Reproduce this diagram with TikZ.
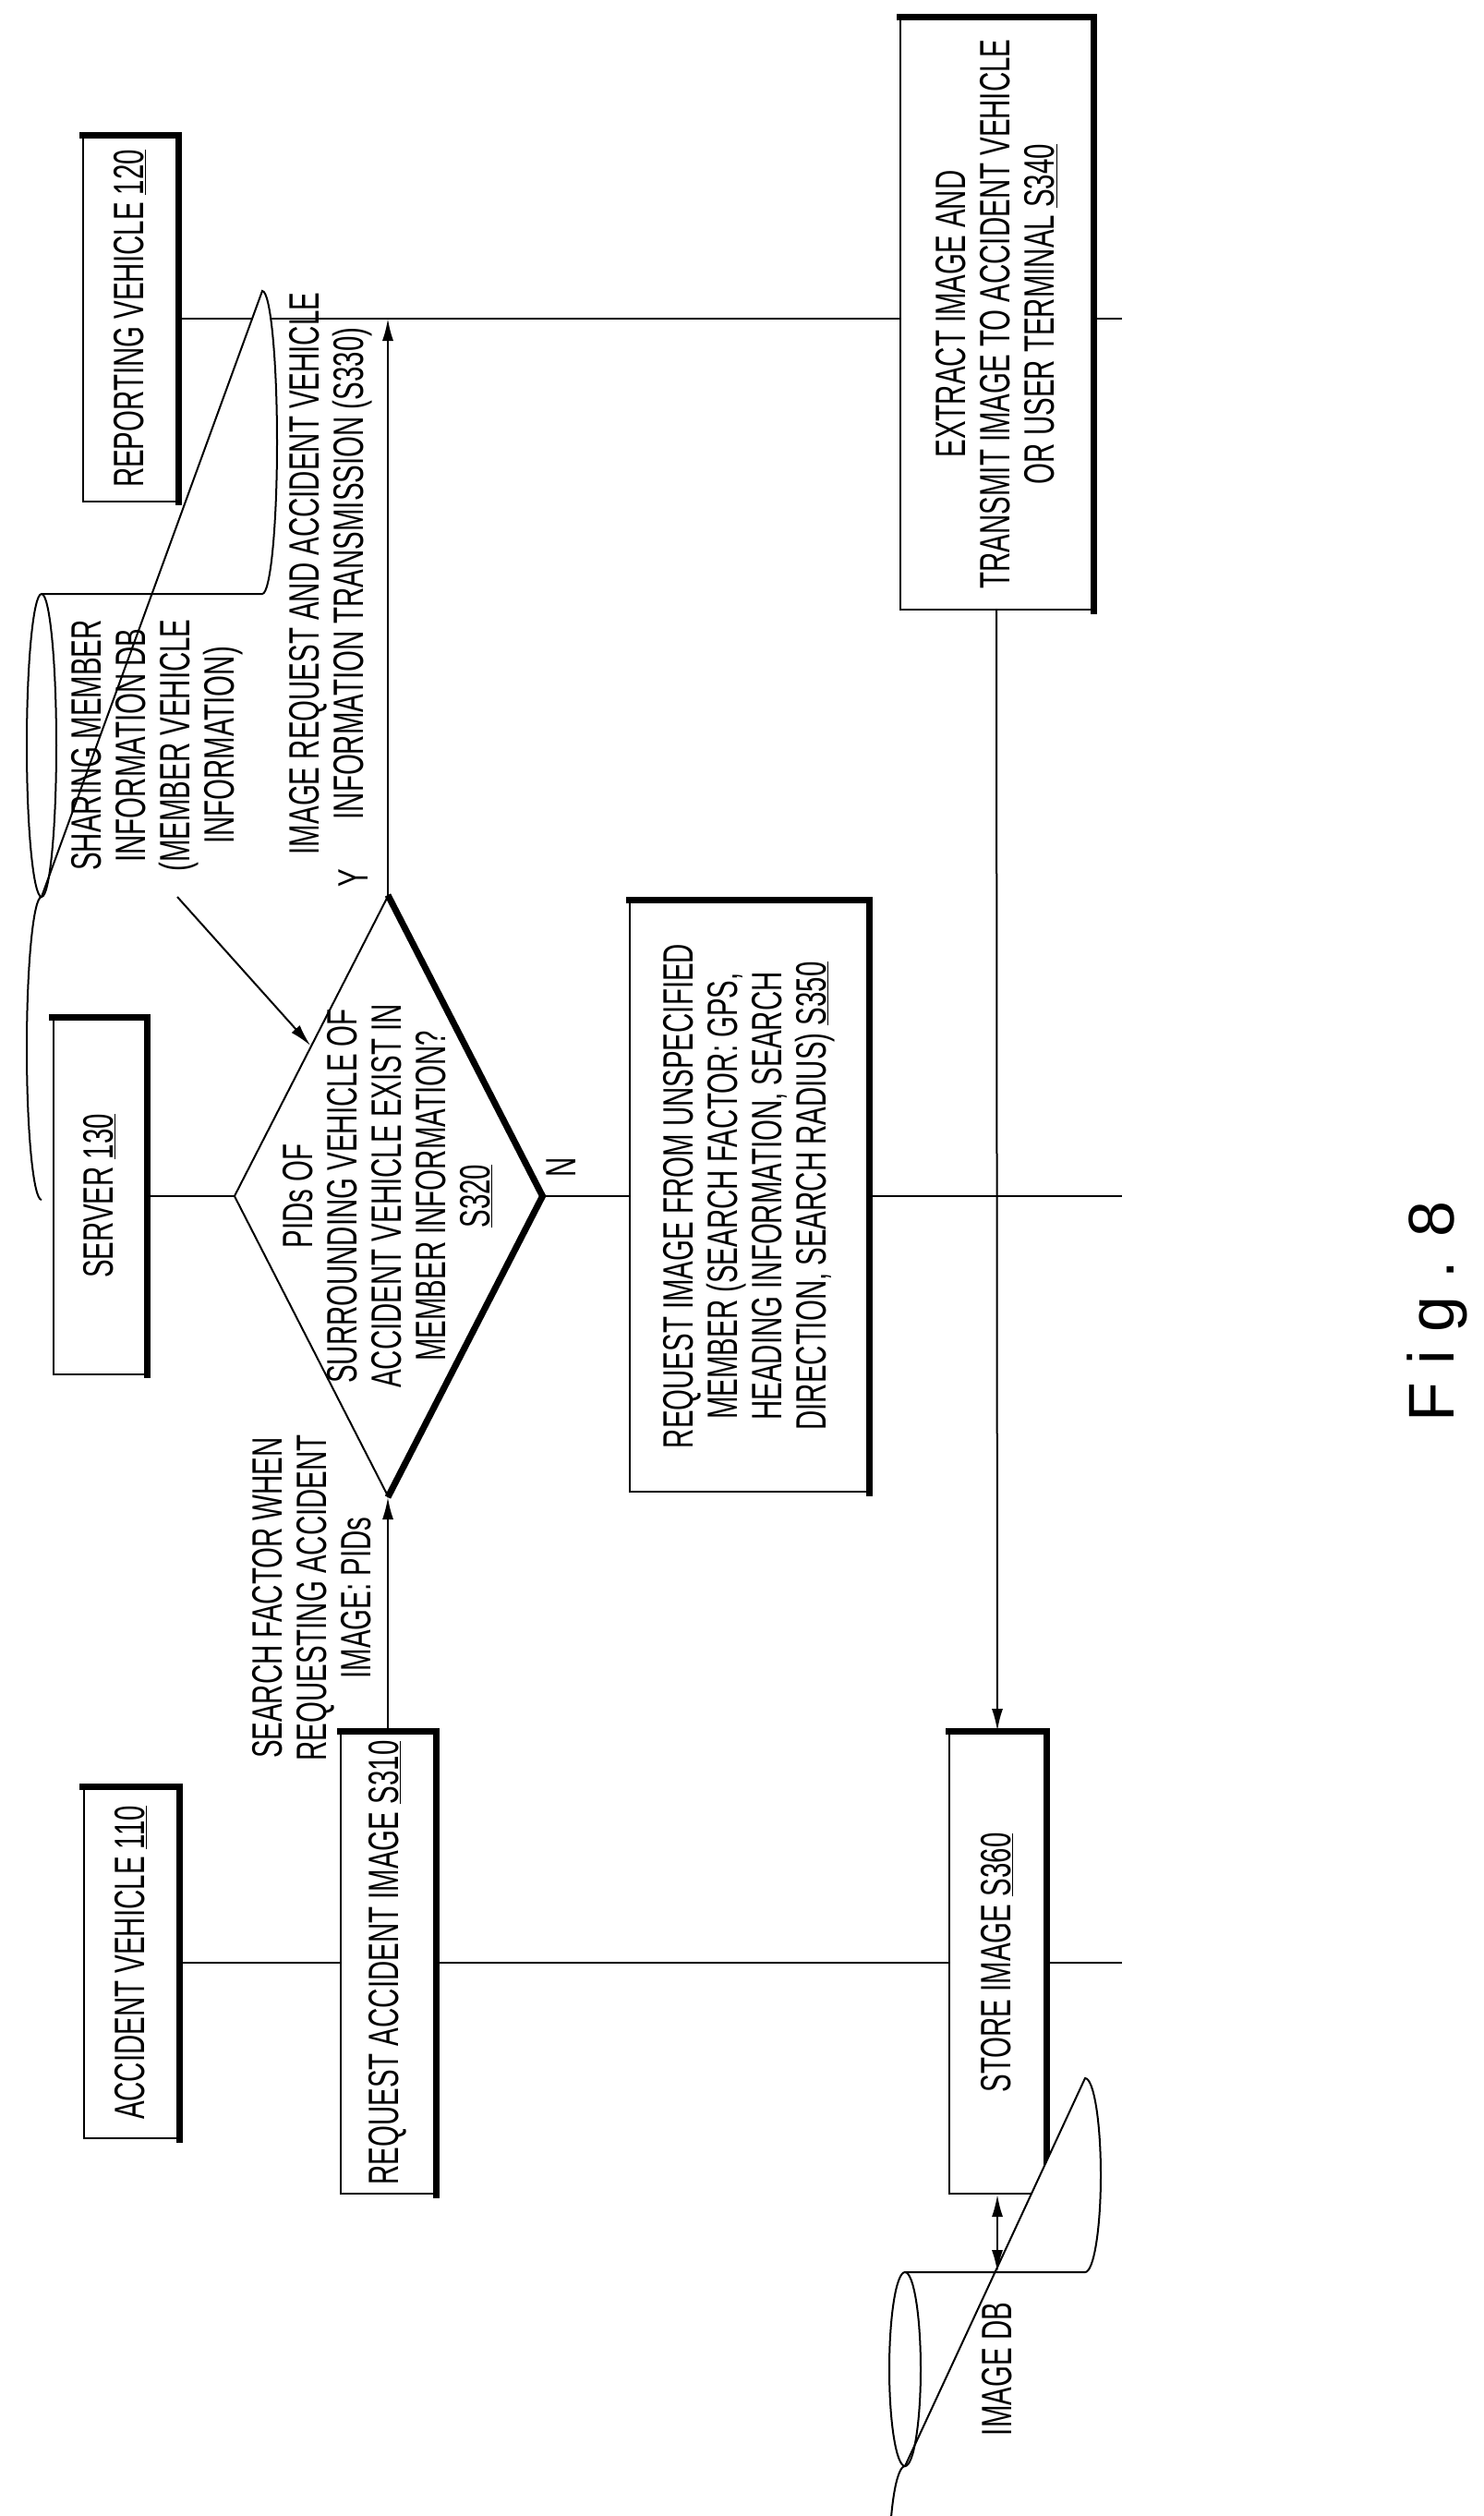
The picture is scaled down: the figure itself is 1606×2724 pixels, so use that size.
\documentclass[tikz,border=0pt]{standalone}
\usepackage{fontspec}
\setmainfont{Liberation Sans}[FakeStretch=0.64]
\newfontfamily\figfont{Liberation Sans}
\usetikzlibrary{shapes.geometric,arrows.meta,calc}
\begin{document}
\begin{tikzpicture}[x=1pt,y=-1pt,line width=2pt,
  every node/.style={font=\fontsize{46}{48}\selectfont},
  box/.style={draw,fill=white,rotate=90,align=center,inner sep=0pt},
  shade/.style={line width=7pt,line cap=rect},
  msg/.style={-{Latex[length=24pt,width=12pt]}},
  lab/.style={rotate=90,align=center,inner sep=0pt}]
  \useasboundingbox (0,0) rectangle (1606,2724);
  \coordinate (end) at (1215,0);

  % lanes
  \node[box,minimum width=380,minimum height=103] (av) at (142,2125) {ACCIDENT VEHICLE \underline{110}};
  \node[box,minimum width=385,minimum height=101] (sv) at (108,1295) {SERVER \underline{130}};
  \node[box,minimum width=395,minimum height=102] (rv) at (141,345) {REPORTING VEHICLE \underline{120}};
  \draw (av.south) -- (av.south -| end);
  \draw (sv.south) -- (sv.south -| end);
  \draw (rv.south) -- (rv.south -| end);

  % steps
  \node[box,minimum width=500,minimum height=102] (rq) at (420,2125) {REQUEST ACCIDENT IMAGE \underline{S310}};
  \node[box,minimum width=500,minimum height=104] (st) at (1080,2125) {STORE IMAGE \underline{S360}};
  \node[box,minimum width=640,minimum height=208] (ex) at (1079,340)
    {EXTRACT IMAGE AND\\TRANSMIT IMAGE TO ACCIDENT VEHICLE\\OR USER TERMINAL \underline{S340}};
  \node[box,minimum width=640,minimum height=258] (rs) at (811,1295)
    {REQUEST IMAGE FROM UNSPECIFIED\\MEMBER (SEARCH FACTOR: GPS,\\HEADING INFORMATION, SEARCH\\DIRECTION, SEARCH RADIUS) \underline{S350}};
  \node[box,diamond,minimum width=650,minimum height=333] (d) at (420,1295) {};
  \node[lab] (dt) at (420,1295)
    {PIDs OF\\SURROUNDING VEHICLE OF\\ACCIDENT VEHICLE EXIST IN\\MEMBER INFORMATION?\\\underline{S320}};
  \foreach \n in {av,sv,rv,rq,st,ex,rs}
    \draw[shade] (\n.south west) -- (\n.south east) -- (\n.north east);
  \draw[shade,line cap=butt] (d.east) -- (d.south) -- (d.west);

  % databases
  \draw[fill=white] (45,643) -- (284,643) arc[start angle=-90,end angle=90,x radius=16,y radius=-164]
    -- (45,971) arc[start angle=90,end angle=270,x radius=16,y radius=-164];
  \draw (45,807) ellipse[x radius=16,y radius=164];
  \node[lab] (mdb) at (170,807) {SHARING MEMBER\\INFORMATION DB\\(MEMBER VEHICLE\\INFORMATION)};
  \coordinate (mdbout) at (192,971);
  \draw[fill=white] (980,2460) -- (1175,2460) arc[start angle=-90,end angle=90,x radius=17,y radius=-105]
    -- (980,2670) arc[start angle=90,end angle=270,x radius=17,y radius=-105];
  \draw (980,2565) ellipse[x radius=17,y radius=105];
  \node[lab] (idb) at (1080,2565) {IMAGE DB};
  \coordinate (idbin) at (st.west |- 0,2460);

  % messages
  \draw[msg] (rq.east) -- (d.west);
  \draw[msg] (d.east) -- (d.east |- rv.south);
  \draw[msg] (mdbout) -- ($(d.north)!0.5!(d.east)$);
  \draw[msg] (ex.west) -- (st.east);
  \draw[{Latex[length=24pt,width=12pt]}-{Latex[length=24pt,width=12pt]}] (st.west) -- (idbin);

  \node[lab] (l1) at (338,1730) {SEARCH FACTOR WHEN\\REQUESTING ACCIDENT\\IMAGE: PIDs};
  \node[lab] (l2) at (358,621) {IMAGE REQUEST AND ACCIDENT VEHICLE\\INFORMATION TRANSMISSION (S330)};
  \node[lab] (ly) at (383,951) {Y};
  \node[lab] (ln) at (608,1264) {N};
  \node[lab,font=\figfont\fontsize{70}{72}\selectfont] (fig) at (1556,1420) {F i g . 8};
\end{tikzpicture}
\end{document}
